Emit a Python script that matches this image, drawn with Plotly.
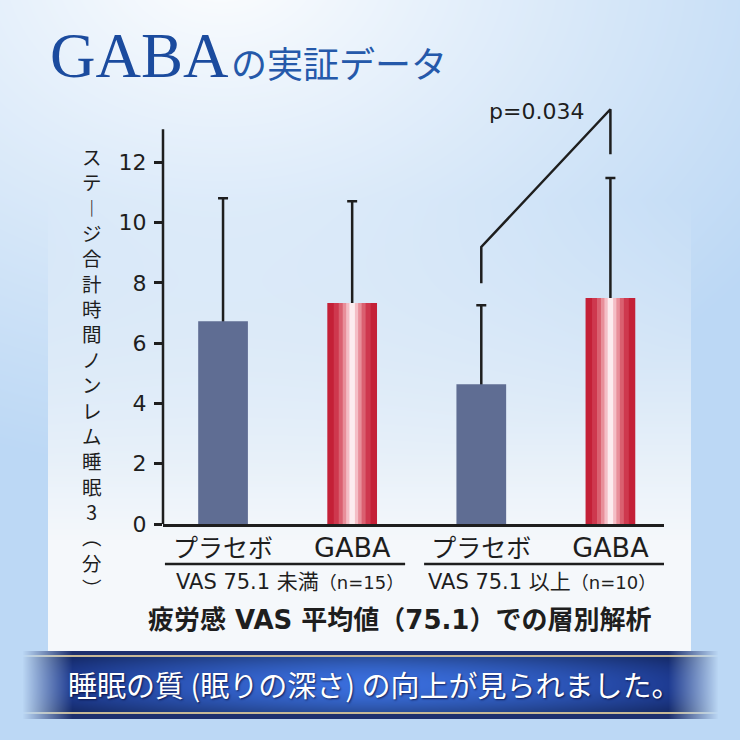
import base64, struct, zlib
import numpy as np
import plotly.graph_objects as go

# ---------------- data ----------------
categories = ["プラセボ", "GABA", "プラセボ", "GABA"]
means = [6.73, 7.33, 4.64, 7.50]
sd_upper = [4.08, 3.38, 2.62, 3.98]
groups = ["VAS 75.1 未満", "VAS 75.1 以上"]
group_n = ["（n=15）", "（n=10）"]
y_ticks = [0, 2, 4, 6, 8, 10, 12]
bracket_x = [2, 2, 3, 3]
bracket_y = [7.99, 9.19, 13.76, 12.27]
p_label = "p=0.034"
y_title = "ステ︱ジ合計時間ノンレム睡眠3︵分︶"

W = H = 740
ML, MR, MT, MB = 163, 76, 102, 216
PW, PH = W - ML - MR, H - MT - MB
XR = [-0.465, 3.415]
YR = [0, 14]
LATIN = "DejaVu Sans, Noto Sans CJK JP"


def px_x(p):
    return (p - ML) / PW


def px_y(p):
    return (H - MB - p) / PH


# ---------------- background image ----------------
def png_uri(arr):
    h, w, _ = arr.shape
    raw = b"".join(b"\x00" + arr[r].tobytes() for r in range(h))

    def chunk(t, d):
        c = struct.pack(">I", len(d)) + t + d
        return c + struct.pack(">I", zlib.crc32(t + d) & 0xFFFFFFFF)

    png = (b"\x89PNG\r\n\x1a\n" + chunk(b"IHDR", struct.pack(">IIBBBBB", w, h, 8, 2, 0, 0, 0))
           + chunk(b"IDAT", zlib.compress(raw, 9)) + chunk(b"IEND", b""))
    return "data:image/png;base64," + base64.b64encode(png).decode()


yy, xx = np.mgrid[0:H, 0:W].astype(float)
blue = np.array([188, 216, 245.0])
white = np.array([255, 255, 255.0])
d = np.sqrt(((xx - 220) / 1.3) ** 2 + (yy + 40) ** 2)
t = np.clip(d / 520, 0, 1) ** 0.9
img = white * (1 - t)[..., None] + blue * t[..., None]

# panel
panel = np.array([245, 248, 251.0])
pa = np.clip((yy - 200) / 340, 0, 1) * ((xx >= 48) & (xx <= 690) & (yy <= 650))
img = img * (1 - pa[..., None]) + panel * pa[..., None]

# banner
f = np.clip((xx - 22) / 50, 0, 1) * np.clip((718 - xx) / 50, 0, 1)
s = np.clip(np.abs(xx - 370) / 350, 0, 1) ** 1.6
c_center = np.array([58, 110, 220.0])
c_edge = np.array([22, 45, 125.0])
band = c_center * (1 - s)[..., None] + c_edge * s[..., None]
v = 1 - 0.3 * np.abs((yy - 684) / 28) ** 2
band = band * np.clip(v, 0.5, 1)[..., None]
m_band = (yy >= 657) & (yy <= 711)
m_gold = ((yy >= 655) & (yy <= 656)) | ((yy >= 712) & (yy <= 713))
m_dark = ((yy >= 651) & (yy <= 654)) | ((yy >= 714) & (yy <= 718))
gold = np.array([200, 185, 150.0])
navy = np.array([30, 48, 110.0])
for mask, col in ((m_band, band), (m_gold, gold), (m_dark, navy)):
    a = (f * mask)[..., None]
    colarr = col if np.ndim(col) == 3 else col[None, None, :]
    img = img * (1 - a) + colarr * a
img = np.clip(img, 0, 255).astype(np.uint8)

fig = go.Figure()

BW = 0.385
xs = list(range(len(categories)))

# error whiskers (drawn underneath the bars so only the upper part shows)
fig.add_trace(go.Bar(
    x=xs, y=means, width=BW, marker=dict(color="rgba(0,0,0,0)", line=dict(width=0)),
    error_y=dict(type="data", symmetric=False, array=sd_upper, arrayminus=means,
                 color="#1e1e1e", thickness=2.5, width=5),
    showlegend=False, hoverinfo="skip"))

pl_idx = [i for i, c in enumerate(categories) if c != "GABA"]
ga_idx = [i for i, c in enumerate(categories) if c == "GABA"]
fig.add_trace(go.Bar(
    x=pl_idx, y=[means[i] for i in pl_idx], width=BW,
    marker=dict(color="#5f6d93", line=dict(width=0)),
    showlegend=False, hoverinfo="skip"))

layers = [(1.0, "rgb(196,32,55)"), (0.74, "rgb(206,56,78)"), (0.54, "rgb(218,96,112)"),
          (0.38, "rgb(232,143,154)"), (0.24, "rgb(244,190,198)"), (0.11, "rgb(252,236,239)")]
for wf, col in layers:
    fig.add_trace(go.Bar(
        x=ga_idx, y=[means[i] for i in ga_idx], width=BW * wf,
        marker=dict(color=col, line=dict(width=0)),
        showlegend=False, hoverinfo="skip"))

# significance bracket
fig.add_trace(go.Scatter(x=bracket_x, y=bracket_y, mode="lines",
                         line=dict(color="#1e1e1e", width=2.5),
                         showlegend=False, hoverinfo="skip"))

ticktext = [c if not c.isascii() else f"<span style='font-size:27px'>{c}</span>"
            for c in categories]

fig.update_layout(
    width=W, height=H, barmode="overlay",
    margin=dict(l=ML, r=MR, t=MT, b=MB, pad=0),
    paper_bgcolor="rgba(0,0,0,0)", plot_bgcolor="rgba(0,0,0,0)",
    font=dict(family=LATIN, color="#1e1e1e"),
    xaxis=dict(range=XR, tickvals=xs, ticktext=ticktext,
               showgrid=False, zeroline=False, showline=True, linecolor="#1e1e1e",
               linewidth=2.5, ticks="", tickfont=dict(size=25, color="#1e1e1e"),
               ticklabelstandoff=0, fixedrange=True),
    yaxis=dict(range=YR, tickvals=y_ticks, showgrid=False, zeroline=False,
               showline=False, ticks="outside", ticklen=8, tickwidth=2.5,
               tickcolor="#1e1e1e", tickfont=dict(size=22, color="#1e1e1e"),
               ticklabelstandoff=3, fixedrange=True),
    images=[dict(source=png_uri(img), xref="paper", yref="paper",
                 x=-ML / PW, y=1 + MT / PH, sizex=W / PW, sizey=H / PH,
                 xanchor="left", yanchor="top", sizing="stretch", layer="below")],
)

# y axis line (stops below the top of the plot area)
fig.add_shape(type="line", xref="paper", yref="y", x0=0, x1=0, y0=0, y1=13.1,
              line=dict(color="#1e1e1e", width=2.5))

# group underline separators
for x0, x1 in ((-0.45, 1.41), (1.557, 3.415)):
    fig.add_shape(type="line", xref="x", yref="paper", x0=x0, x1=x1,
                  y0=px_y(564), y1=px_y(564), line=dict(color="#1e1e1e", width=2.5))

ann = []
ann.append(dict(x=2.428, y=13.67, xref="x", yref="y", xanchor="center", yanchor="middle",
                text=p_label, showarrow=False,
                font=dict(size=22, color="#1e1e1e", family=LATIN)))

# vertical (tategaki) axis title: one glyph per line in a single text
ann.append(dict(x=px_x(92), y=px_y(140), xref="paper", yref="paper",
                xanchor="center", yanchor="top", align="center",
                text="<br>".join(list(y_title)), showarrow=False,
                font=dict(size=19.5, color="#1e1e1e", family="Noto Sans CJK JP")))

for gx, g, n in zip((0.52, 2.47), groups, group_n):
    ann.append(dict(x=gx, y=px_y(582), xref="x", yref="paper",
                    xanchor="center", yanchor="middle",
                    text=f"{g}<span style='font-size:18px'>{n}</span>", showarrow=False,
                    font=dict(size=21, color="#1e1e1e", family=LATIN)))
ann.append(dict(x=px_x(399), y=px_y(620), xref="paper", yref="paper",
                xanchor="center", yanchor="middle",
                text="<b>疲労感 VAS 平均値（75.1）での層別解析</b>", showarrow=False,
                font=dict(size=26, color="#1e1e1e", family=LATIN)))
ann.append(dict(x=px_x(48), y=px_y(56), xref="paper", yref="paper",
                xanchor="left", yanchor="middle",
                text="GABA", showarrow=False,
                font=dict(size=63, color="#1b4b9e", family="Liberation Serif")))
ann.append(dict(x=px_x(229), y=px_y(62), xref="paper", yref="paper",
                xanchor="left", yanchor="middle",
                text="の実証データ", showarrow=False,
                font=dict(size=36, color="#2559aa", family="Noto Sans CJK JP")))
ann.append(dict(x=px_x(374), y=px_y(684), xref="paper", yref="paper",
                xanchor="center", yanchor="middle",
                text="睡眠の質 (眠りの深さ) の向上が見られました。", showarrow=False,
                font=dict(size=29, color="white", family="Noto Sans CJK JP",
                          shadow="1px 1px 2px rgba(0,0,40,0.7)")))
fig.update_layout(annotations=ann)

fig.write_html("out.html", config={"displayModeBar": False},
               post_script="document.body.style.margin='0px';")
